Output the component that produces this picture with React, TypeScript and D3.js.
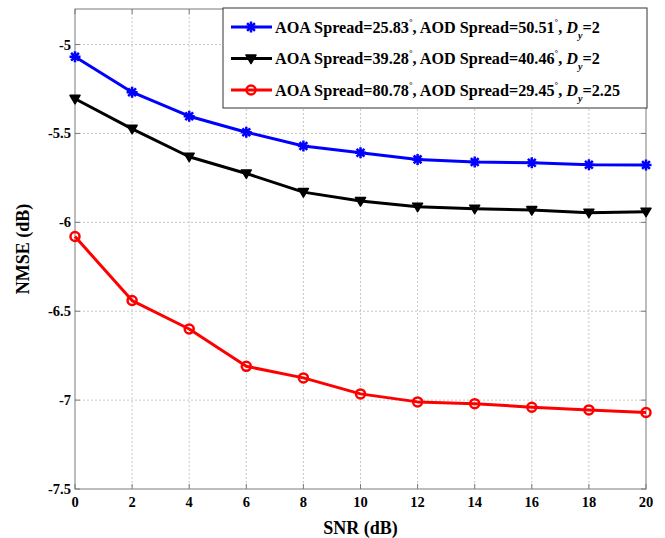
import React, { useEffect, useRef } from "react";
import * as d3 from "d3";

const snr = [0, 2, 4, 6, 8, 10, 12, 14, 16, 18, 20];
const blueValues = [-5.069, -5.268, -5.403, -5.493, -5.571, -5.609, -5.646, -5.661, -5.665, -5.676, -5.678];
const blackValues = [-5.305, -5.474, -5.631, -5.725, -5.83, -5.88, -5.912, -5.923, -5.931, -5.946, -5.94];
const redValues = [-6.08, -6.44, -6.6, -6.81, -6.875, -6.965, -7.01, -7.02, -7.04, -7.055, -7.07];
const xTicks = [0, 2, 4, 6, 8, 10, 12, 14, 16, 18, 20];
const yTicks = [-5, -5.5, -6, -6.5, -7, -7.5];
const legendAoa = ["25.83", "39.28", "80.78"];
const legendAod = ["50.51", "40.46", "29.45"];
const legendDy = ["2", "2", "2.25"];
const seriesColors = ["#0000ff", "#000000", "#ff0000"];
const seriesMarkers = ["asterisk", "triangle", "circle"];

const W = 665, H = 538;
const M = { left: 75, right: 646, top: 9, bottom: 489 };
const FONT = "'Liberation Serif', 'Times New Roman', serif";

export default function App() {
  const ref = useRef<SVGSVGElement>(null);
  useEffect(() => {
    const svg = d3.select(ref.current);
    svg.selectAll("*").remove();
    const x = d3.scaleLinear().domain([0, 20]).range([M.left, M.right]);
    const y = d3.scaleLinear().domain([-7.5, -4.8]).range([M.bottom, M.top]);

    svg.append("rect").attr("width", W).attr("height", H).attr("fill", "#fff");

    // grid
    const g = svg.append("g");
    xTicks.forEach((t) => {
      if (t === 0 || t === 20) return;
      g.append("line").attr("x1", x(t)).attr("x2", x(t)).attr("y1", M.top).attr("y2", M.bottom)
        .attr("stroke", "#c8c8c8").attr("stroke-width", 1).attr("stroke-dasharray", "2,2");
    });
    yTicks.forEach((t) => {
      if (t === -7.5) return;
      g.append("line").attr("x1", M.left).attr("x2", M.right).attr("y1", y(t)).attr("y2", y(t))
        .attr("stroke", "#c8c8c8").attr("stroke-width", 1).attr("stroke-dasharray", "2,2");
    });

    // ticks (inward, box)
    const axisColor = "#7a7a7a";
    xTicks.forEach((t) => {
      g.append("line").attr("x1", x(t)).attr("x2", x(t)).attr("y1", M.bottom).attr("y2", M.bottom - 5).attr("stroke", axisColor);
      g.append("line").attr("x1", x(t)).attr("x2", x(t)).attr("y1", M.top).attr("y2", M.top + 5).attr("stroke", axisColor);
      g.append("text").attr("x", x(t)).attr("y", M.bottom + 18).attr("text-anchor", "middle")
        .attr("font-family", FONT).attr("font-weight", "bold").attr("font-size", 14.5).text(String(t));
    });
    yTicks.forEach((t) => {
      g.append("line").attr("x1", M.left).attr("x2", M.left + 5).attr("y1", y(t)).attr("y2", y(t)).attr("stroke", axisColor);
      g.append("line").attr("x1", M.right).attr("x2", M.right - 5).attr("y1", y(t)).attr("y2", y(t)).attr("stroke", axisColor);
      g.append("text").attr("x", M.left - 4).attr("y", y(t) + 5).attr("text-anchor", "end")
        .attr("font-family", FONT).attr("font-weight", "bold").attr("font-size", 14.5).text(String(t));
    });
    g.append("rect").attr("x", M.left).attr("y", M.top).attr("width", M.right - M.left).attr("height", M.bottom - M.top)
      .attr("fill", "none").attr("stroke", axisColor).attr("stroke-width", 1);

    // axis labels
    svg.append("text").attr("x", (M.left + M.right) / 2).attr("y", 534).attr("text-anchor", "middle")
      .attr("font-family", FONT).attr("font-weight", "bold").attr("font-size", 18).text("SNR (dB)");
    svg.append("text").attr("transform", `translate(29,${(M.top + M.bottom) / 2}) rotate(-90)`).attr("text-anchor", "middle")
      .attr("font-family", FONT).attr("font-weight", "bold").attr("font-size", 18).text("NMSE (dB)");

    const drawMarker = (sel: any, kind: string, cx: number, cy: number, color: string) => {
      if (kind === "asterisk") {
        const r = 5.5, d = 3.9;
        const p = `M${cx - r},${cy}L${cx + r},${cy}M${cx},${cy - r}L${cx},${cy + r}M${cx - d},${cy - d}L${cx + d},${cy + d}M${cx - d},${cy + d}L${cx + d},${cy - d}`;
        sel.append("path").attr("d", p).attr("stroke", color).attr("stroke-width", 2.5).attr("fill", "none");
      } else if (kind === "triangle") {
        const s = 5;
        sel.append("path").attr("d", `M${cx - s},${cy - s * 0.7}L${cx + s},${cy - s * 0.7}L${cx},${cy + s * 1.0}Z`)
          .attr("fill", color).attr("stroke", color).attr("stroke-width", 1.5).attr("stroke-linejoin", "round");
      } else {
        sel.append("circle").attr("cx", cx).attr("cy", cy).attr("r", 4.5).attr("fill", "none")
          .attr("stroke", color).attr("stroke-width", 2.5);
      }
    };

    const all = [blueValues, blackValues, redValues];
    const line = d3.line<number>().x((_, i) => x(snr[i])).y((d) => y(d));
    all.forEach((vals, k) => {
      const sg = svg.append("g");
      sg.append("path").attr("d", line(vals)).attr("fill", "none").attr("stroke", seriesColors[k])
        .attr("stroke-width", 3).attr("stroke-linejoin", "round");
      vals.forEach((v, i) => drawMarker(sg, seriesMarkers[k], x(snr[i]), y(v), seriesColors[k]));
    });

    // legend
    const lx = 223, ly = 8, lw = 647 - 223, lh = 100;
    const lg = svg.append("g");
    lg.append("rect").attr("x", lx).attr("y", ly).attr("width", lw).attr("height", lh)
      .attr("fill", "#fff").attr("stroke", "#333").attr("stroke-width", 1);
    [0, 1, 2].forEach((k) => {
      const cy = 27 + k * 31.5;
      lg.append("line").attr("x1", 231).attr("x2", 272).attr("y1", cy).attr("y2", cy)
        .attr("stroke", seriesColors[k]).attr("stroke-width", 3);
      drawMarker(lg, seriesMarkers[k], 251, cy, seriesColors[k]);
      const t = lg.append("text").attr("x", 275).attr("y", cy + 5.5).attr("font-family", FONT)
        .attr("font-weight", "bold").attr("font-size", 16.2);
      t.append("tspan").text(`AOA Spread=${legendAoa[k]}`);
      t.append("tspan").attr("font-size", 9).attr("dy", -8).text("°");
      t.append("tspan").attr("dy", 8).text(`, AOD Spread=${legendAod[k]}`);
      t.append("tspan").attr("font-size", 9).attr("dy", -8).text("°");
      t.append("tspan").attr("dy", 8).text(", ");
      t.append("tspan").attr("font-style", "italic").text("D");
      t.append("tspan").attr("font-style", "italic").attr("font-size", 10).attr("dy", 6).text("y");
      t.append("tspan").attr("dy", -6).text(`=${legendDy[k]}`);
    });
  }, []);
  return (
    <svg ref={ref} width={W} height={H} style={{ position: "absolute", left: 0, top: 0 }} />
  );
}
